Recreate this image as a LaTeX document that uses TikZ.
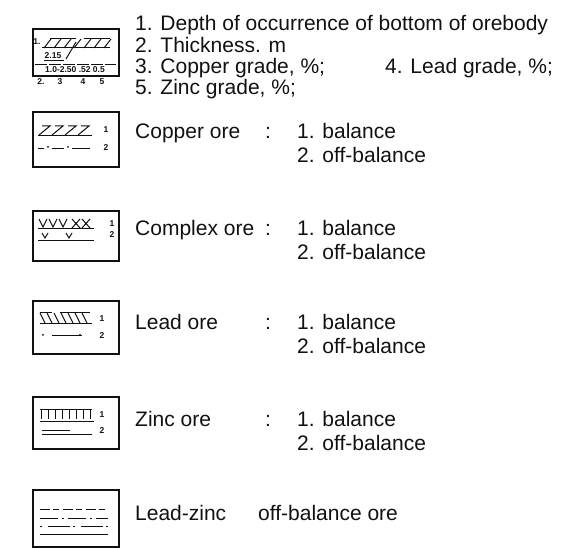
\documentclass[tikz,border=0pt]{standalone}
\usepackage{fontspec}
\setmainfont{Liberation Sans}
\usetikzlibrary{positioning}
\definecolor{inkcolor}{HTML}{111111}

\begin{document}
\begin{tikzpicture}[x=1pt, y=-1pt,
  legendbox/.style={draw=inkcolor, line width=1.9pt, minimum width=86pt,
    inner sep=0pt, anchor=north west},
  legendtext/.style={font=\fontsize{21}{24}\selectfont, color=inkcolor,
    anchor=base west, inner sep=0pt},
  tinytext/.style={font=\fontsize{8.5}{9}\selectfont\bfseries, color=inkcolor,
    inner sep=0pt},
  hatch/.style={draw=inkcolor, line width=1pt}]
  \useasboundingbox (0,0) rectangle (571,548);

  % key to the orebody symbol
  \node[legendbox, minimum height=47pt] (key) at (32,28) {};
  \foreach \n/\txt/\y in {1/1. Depth of occurrence of bottom of orebody/31,
      2/{2. Thickness. m}/53, 3/{3. Copper grade, \%;}/74, 5/{5. Zinc grade, \%;}/95} {
    \node[legendtext] (head-\n) at (135,\y) {\txt};
  }
  \node[legendtext] (head-4) at (385,74) {4. Lead grade, \%;};
  \begin{scope}[shift={(key.north west)}]
    \node[tinytext] (key-one) at (5,14) {1.};
    \draw[hatch] (10,20) -- (78,20);
    \draw[hatch] (18,11) -- (44,11) (52,11) -- (78,11);
    \foreach \x in {12,22,...,72} \draw[hatch] (\x,20) -- (\x+7,11);
    \draw[hatch] (44,14) -- (34,31);
    \node[tinytext] (key-two) at (21,28) {2.15};
    \draw[hatch] (12,33) -- (32,33);
    \draw[hatch, dash pattern=on 12pt off 2pt] (3,37) -- (84,37);
    \node[tinytext] (key-row) at (43,42) {1.0-2.50 .52 0.5};
  \end{scope}
  \foreach \n/\txt/\x in {2/2./41,3/3/60,4/4/83,5/5/102} {
    \node[tinytext] (key-n\n) at (\x,82) {\txt};
  }

  % ore types, balance and off-balance
  \foreach \nm/\ty/\h/\la/\lbl in {cu/111/55/132/Copper ore, cx/210/50/229/Complex ore,
      pb/300/53/323/Lead ore, zn/396/52/419/Zinc ore} {
    \node[legendbox, minimum height=\h pt] (\nm) at (32,\ty) {};
    \node[legendtext] (\nm-name) at (135,\la+7) {\lbl};
    \node[legendtext] (\nm-colon) at (265,\la+7) {:};
    \node[legendtext] (\nm-one) at (297,\la+7) {1. balance};
    \node[legendtext] (\nm-two) at (297,\la+31) {2. off-balance};
  }

  % copper
  \begin{scope}[shift={(cu.north west)}]
    \node[tinytext] (cu-i) at (74,19) {1};
    \node[tinytext] (cu-ii) at (74,37) {2};
    \draw[hatch] (6,25) -- (60,25);
    \foreach \x in {6,19,32,45} {
      \draw[hatch] (\x+4,15) -- (\x+12,15) -- (\x+1,24);
    }
    \draw[hatch] (6,38) -- (12,38) (20,38) -- (32,38) (40,38) -- (58,38);
    \foreach \x in {16,36} \fill[inkcolor] (\x,36) circle (1);
  \end{scope}
  % complex
  \begin{scope}[shift={(cx.north west)}]
    \node[tinytext] (cx-i) at (80,14) {1};
    \node[tinytext] (cx-ii) at (80,25) {2};
    \draw[hatch] (6,19) -- (62,19);
    \foreach \x in {7,17,27} \draw[hatch] (\x,9) -- (\x+4,17) -- (\x+8,9);
    \foreach \x in {40,50} \draw[hatch] (\x,9) -- (\x+8,18) (\x+8,9) -- (\x,18);
    \foreach \x in {10,34} \draw[hatch] (\x,23) -- (\x+3,28) -- (\x+6,23);
    \draw[hatch] (6,31) -- (62,31);
  \end{scope}
  % lead
  \begin{scope}[shift={(pb.north west)}]
    \node[tinytext] (pb-i) at (70,19) {1};
    \node[tinytext] (pb-ii) at (70,36) {2};
    \draw[hatch] (8,24) -- (60,24);
    \draw[hatch] (8,13) -- (20,13) (28,13) -- (58,13);
    \foreach \x in {8,15,...,55} \draw[hatch] (\x,13) -- (\x+5,23);
    \draw[hatch] (20,36) -- (50,36);
    \foreach \x in {11,48} \fill[inkcolor] (\x,35) circle (1);
  \end{scope}
  % zinc
  \begin{scope}[shift={(zn.north west)}]
    \node[tinytext] (zn-i) at (70,19) {1};
    \node[tinytext] (zn-ii) at (70,35) {2};
    \draw[hatch] (8,14) -- (60,14);
    \foreach \x in {9,16,...,59} \draw[hatch] (\x,14) -- (\x,23);
    \draw[hatch] (8,25) -- (62,25);
    \draw[hatch] (10,34) -- (38,34);
    \draw[hatch] (10,38) -- (60,38);
  \end{scope}

  % lead-zinc off-balance
  \node[legendbox, minimum height=57pt] (pz) at (32,489) {};
  \node[legendtext] (pz-name) at (135,520) {Lead-zinc};
  \node[legendtext] (pz-ore) at (258,520) {off-balance ore};
  \begin{scope}[shift={(pz.north west)}]
    \draw[hatch, dash pattern=on 10pt off 3pt on 6pt off 4pt] (8,20) -- (76,20);
    \draw[hatch, dash pattern=on 18pt off 4pt on 2pt off 4pt] (8,29) -- (76,29);
    \draw[hatch, dash pattern=on 2pt off 6pt on 22pt off 3pt] (8,37) -- (76,37);
    \draw[hatch] (8,45) -- (76,45);
  \end{scope}
\end{tikzpicture}
\end{document}
